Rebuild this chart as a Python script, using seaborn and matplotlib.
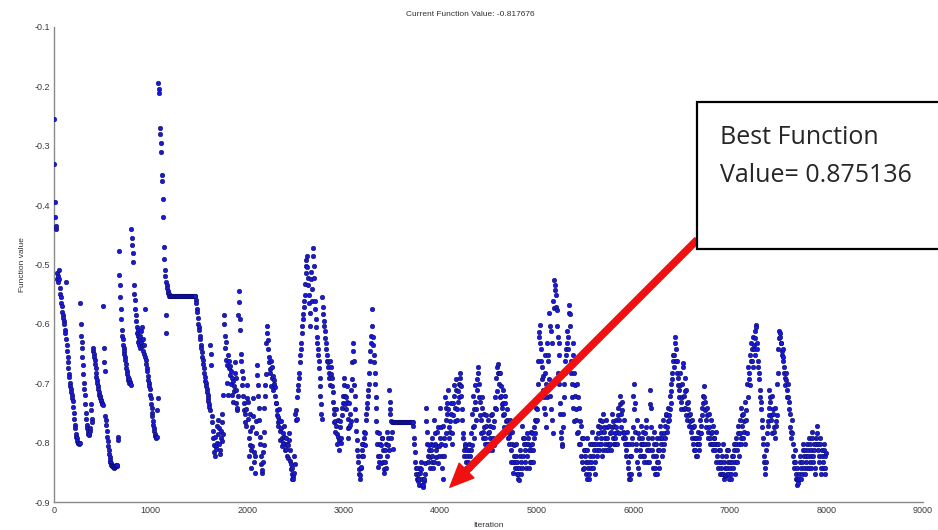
import numpy as np
import pandas as pd
import matplotlib
matplotlib.use("Agg")
import matplotlib.pyplot as plt
import seaborn as sns
from matplotlib.patches import Rectangle

# Function values, one value every 5 iterations
vals_0k = [
    -0.255, -0.33, -0.395, -0.42, -0.44, -0.435, -0.515, -0.525, -0.53, -0.52, -0.51, -0.525, -0.54, -0.55, -0.555, -0.565, -0.57, -0.58, -0.585, -0.59,
    -0.595, -0.60, -0.61, -0.615, -0.53, -0.625, -0.635, -0.645, -0.655, -0.665, -0.675, -0.685, -0.69, -0.70, -0.705, -0.71, -0.715, -0.72, -0.725, -0.73,
    -0.74, -0.75, -0.76, -0.77, -0.775, -0.785, -0.79, -0.793, -0.797, -0.80, -0.80, -0.802, -0.80, -0.80, -0.565, -0.60, -0.62, -0.63, -0.64, -0.655,
    -0.67, -0.685, -0.70, -0.71, -0.72, -0.735, -0.75, -0.76, -0.77, -0.775, -0.78, -0.785, -0.787, -0.785, -0.78, -0.775, -0.735, -0.745, -0.76, -0.765,
    -0.645, -0.64, -0.65, -0.655, -0.66, -0.668, -0.675, -0.683, -0.69, -0.695, -0.70, -0.705, -0.71, -0.715, -0.72, -0.722, -0.725, -0.728, -0.73, -0.733,
    -0.735, -0.737, -0.57, -0.64, -0.665, -0.68, -0.755, -0.762, -0.77, -0.78, -0.79, -0.797, -0.805, -0.812, -0.82, -0.825, -0.83, -0.833, -0.835, -0.837,
    -0.838, -0.84, -0.841, -0.84, -0.842, -0.84, -0.841, -0.839, -0.837, -0.84, -0.84, -0.838, -0.79, -0.795, -0.478, -0.518, -0.535, -0.555, -0.575, -0.592,
    -0.61, -0.62, -0.625, -0.635, -0.64, -0.645, -0.65, -0.655, -0.66, -0.667, -0.675, -0.68, -0.685, -0.69, -0.695, -0.70, -0.693, -0.698, -0.70, -0.703,
    -0.44, -0.455, -0.467, -0.48, -0.495, -0.535, -0.55, -0.56, -0.575, -0.585, -0.595, -0.605, -0.615, -0.62, -0.63, -0.61, -0.625, -0.635, -0.64, -0.62,
    -0.612, -0.63, -0.605, -0.638, -0.625, -0.645, -0.635, -0.65, -0.575, -0.655, -0.66, -0.668, -0.675, -0.68, -0.688, -0.695, -0.70, -0.705, -0.71, -0.72,
]
vals_1k = [
    -0.725, -0.735, -0.742, -0.75, -0.755, -0.763, -0.77, -0.775, -0.78, -0.785, -0.788, -0.79, -0.792, -0.79, -0.745, -0.725, -0.195, -0.205, -0.211, -0.27,
    -0.28, -0.295, -0.31, -0.35, -0.36, -0.39, -0.42, -0.47, -0.49, -0.51, -0.52, -0.585, -0.53, -0.615, -0.535, -0.54, -0.545, -0.548, -0.55, -0.553,
    -0.553, -0.553, -0.553, -0.553, -0.553, -0.553, -0.553, -0.553, -0.553, -0.553, -0.553, -0.553, -0.553, -0.553, -0.553, -0.553, -0.553, -0.553, -0.553, -0.553,
    -0.553, -0.553, -0.553, -0.553, -0.553, -0.553, -0.553, -0.553, -0.553, -0.553, -0.553, -0.553, -0.553, -0.553, -0.553, -0.553, -0.553, -0.553, -0.553, -0.553,
    -0.553, -0.553, -0.553, -0.553, -0.553, -0.553, -0.553, -0.553, -0.553, -0.553, -0.553, -0.553, -0.553, -0.553, -0.56, -0.565, -0.575, -0.58, -0.59, -0.60,
    -0.605, -0.61, -0.62, -0.625, -0.635, -0.64, -0.648, -0.655, -0.66, -0.668, -0.675, -0.683, -0.69, -0.697, -0.70, -0.705, -0.71, -0.715, -0.72, -0.725,
    -0.73, -0.735, -0.74, -0.745, -0.635, -0.65, -0.67, -0.755, -0.765, -0.78, -0.793, -0.804, -0.815, -0.822, -0.79, -0.805, -0.811, -0.772, -0.80, -0.785,
    -0.762, -0.776, -0.803, -0.812, -0.82, -0.792, -0.781, -0.797, -0.752, -0.766, -0.785, -0.72, -0.60, -0.585, -0.62, -0.64, -0.63, -0.66, -0.67, -0.70,
    -0.72, -0.652, -0.663, -0.675, -0.671, -0.686, -0.68, -0.702, -0.72, -0.692, -0.697, -0.731, -0.713, -0.704, -0.683, -0.664, -0.691, -0.712, -0.733, -0.745,
    -0.741, -0.722, -0.585, -0.545, -0.563, -0.61, -0.592, -0.65, -0.662, -0.68, -0.703, -0.692, -0.721, -0.734, -0.745, -0.752, -0.765, -0.772, -0.743, -0.724,
]
vals_2k = [
    -0.703, -0.732, -0.761, -0.793, -0.822, -0.804, -0.781, -0.752, -0.843, -0.812, -0.806, -0.773, -0.755, -0.724, -0.815, -0.833, -0.851, -0.822, -0.784, -0.763,
    -0.67, -0.686, -0.703, -0.722, -0.741, -0.762, -0.791, -0.803, -0.822, -0.836, -0.851, -0.846, -0.832, -0.815, -0.804, -0.782, -0.741, -0.722, -0.703, -0.684,
    -0.632, -0.615, -0.603, -0.627, -0.642, -0.655, -0.664, -0.676, -0.683, -0.662, -0.704, -0.692, -0.673, -0.687, -0.712, -0.701, -0.694, -0.707, -0.722, -0.733,
    -0.734, -0.745, -0.753, -0.766, -0.772, -0.757, -0.743, -0.762, -0.781, -0.795, -0.763, -0.776, -0.792, -0.806, -0.801, -0.783, -0.772, -0.791, -0.812, -0.803,
    -0.792, -0.811, -0.803, -0.822, -0.826, -0.804, -0.783, -0.796, -0.812, -0.831, -0.836, -0.845, -0.852, -0.861, -0.842, -0.856, -0.862, -0.851, -0.823, -0.836,
    -0.751, -0.762, -0.745, -0.761, -0.723, -0.712, -0.703, -0.692, -0.683, -0.665, -0.652, -0.643, -0.632, -0.615, -0.603, -0.592, -0.583, -0.572, -0.561, -0.552,
    -0.532, -0.515, -0.502, -0.492, -0.485, -0.505, -0.522, -0.535, -0.551, -0.565, -0.582, -0.603, -0.512, -0.525, -0.542, -0.561, -0.473, -0.485, -0.503, -0.522,
    -0.561, -0.575, -0.592, -0.605, -0.622, -0.633, -0.642, -0.652, -0.663, -0.675, -0.692, -0.705, -0.722, -0.735, -0.752, -0.761, -0.555, -0.572, -0.583, -0.595,
    -0.603, -0.612, -0.623, -0.632, -0.643, -0.652, -0.663, -0.665, -0.672, -0.683, -0.692, -0.703, -0.662, -0.673, -0.684, -0.692, -0.704, -0.715, -0.732, -0.743,
    -0.752, -0.765, -0.782, -0.763, -0.744, -0.772, -0.803, -0.785, -0.762, -0.791, -0.812, -0.795, -0.773, -0.764, -0.792, -0.801, -0.753, -0.742, -0.733, -0.722,
]
vals_3k = [
    -0.692, -0.703, -0.722, -0.735, -0.744, -0.723, -0.704, -0.732, -0.761, -0.775, -0.792, -0.773, -0.734, -0.752, -0.771, -0.763, -0.712, -0.693, -0.664, -0.645,
    -0.632, -0.662, -0.703, -0.722, -0.743, -0.762, -0.781, -0.795, -0.812, -0.823, -0.832, -0.845, -0.852, -0.861, -0.855, -0.843, -0.841, -0.822, -0.803, -0.813,
    -0.822, -0.803, -0.782, -0.793, -0.804, -0.783, -0.762, -0.751, -0.742, -0.733, -0.722, -0.711, -0.702, -0.683, -0.662, -0.645, -0.632, -0.621, -0.575, -0.603,
    -0.622, -0.635, -0.652, -0.665, -0.683, -0.702, -0.723, -0.742, -0.763, -0.782, -0.803, -0.822, -0.841, -0.832, -0.783, -0.802, -0.823, -0.835, -0.804, -0.792,
    -0.793, -0.812, -0.833, -0.845, -0.851, -0.832, -0.813, -0.802, -0.842, -0.823, -0.782, -0.793, -0.804, -0.812, -0.712, -0.732, -0.743, -0.752, -0.764, -0.792,
    -0.765, -0.782, -0.811, -0.765, -0.765, -0.765, -0.765, -0.765, -0.765, -0.765, -0.765, -0.765, -0.765, -0.765, -0.765, -0.765, -0.765, -0.765, -0.765, -0.765,
    -0.765, -0.765, -0.765, -0.765, -0.765, -0.765, -0.765, -0.765, -0.765, -0.765, -0.765, -0.765, -0.765, -0.765, -0.765, -0.765, -0.765, -0.765, -0.765, -0.765,
    -0.765, -0.765, -0.765, -0.765, -0.772, -0.792, -0.803, -0.815, -0.832, -0.843, -0.852, -0.861, -0.842, -0.853, -0.862, -0.865, -0.871, -0.862, -0.851, -0.843,
    -0.832, -0.845, -0.862, -0.871, -0.875, -0.872, -0.865, -0.861, -0.852, -0.835, -0.742, -0.763, -0.782, -0.803, -0.822, -0.833, -0.804, -0.812, -0.843, -0.825,
    -0.812, -0.803, -0.832, -0.823, -0.792, -0.804, -0.842, -0.833, -0.762, -0.783, -0.802, -0.813, -0.824, -0.805, -0.782, -0.773, -0.834, -0.823, -0.806, -0.792,
]
vals_4k = [
    -0.742, -0.773, -0.802, -0.823, -0.842, -0.861, -0.772, -0.793, -0.822, -0.804, -0.723, -0.742, -0.783, -0.762, -0.751, -0.733, -0.712, -0.743, -0.792, -0.773,
    -0.763, -0.782, -0.733, -0.752, -0.783, -0.802, -0.754, -0.733, -0.722, -0.703, -0.742, -0.763, -0.712, -0.693, -0.762, -0.743, -0.732, -0.713, -0.702, -0.723,
    -0.692, -0.703, -0.682, -0.705, -0.722, -0.743, -0.762, -0.783, -0.792, -0.813, -0.822, -0.803, -0.806, -0.832, -0.843, -0.822, -0.813, -0.845, -0.833, -0.812,
    -0.803, -0.822, -0.843, -0.812, -0.783, -0.804, -0.752, -0.773, -0.722, -0.743, -0.772, -0.793, -0.703, -0.732, -0.743, -0.762, -0.712, -0.693, -0.672, -0.683,
    -0.702, -0.723, -0.732, -0.753, -0.762, -0.783, -0.742, -0.723, -0.782, -0.793, -0.752, -0.773, -0.792, -0.803, -0.772, -0.753, -0.802, -0.813, -0.762, -0.783,
    -0.782, -0.803, -0.812, -0.793, -0.772, -0.753, -0.802, -0.813, -0.752, -0.773, -0.792, -0.804, -0.763, -0.742, -0.723, -0.744, -0.692, -0.713, -0.672, -0.683,
    -0.667, -0.683, -0.702, -0.723, -0.682, -0.704, -0.722, -0.735, -0.742, -0.753, -0.712, -0.733, -0.752, -0.773, -0.734, -0.722, -0.763, -0.782, -0.743, -0.762,
    -0.772, -0.793, -0.791, -0.803, -0.762, -0.783, -0.812, -0.833, -0.782, -0.803, -0.832, -0.851, -0.804, -0.823, -0.842, -0.833, -0.822, -0.803, -0.852, -0.843,
    -0.832, -0.853, -0.861, -0.863, -0.842, -0.823, -0.812, -0.833, -0.852, -0.843, -0.772, -0.793, -0.822, -0.803, -0.792, -0.813, -0.832, -0.843, -0.802, -0.783,
    -0.822, -0.803, -0.792, -0.813, -0.842, -0.833, -0.804, -0.782, -0.833, -0.812, -0.783, -0.802, -0.813, -0.832, -0.792, -0.773, -0.762, -0.783, -0.742, -0.763,
]
vals_5k = [
    -0.762, -0.743, -0.702, -0.663, -0.622, -0.613, -0.602, -0.633, -0.642, -0.663, -0.672, -0.693, -0.688, -0.712, -0.723, -0.742, -0.652, -0.683, -0.752, -0.773,
    -0.702, -0.723, -0.632, -0.653, -0.662, -0.693, -0.582, -0.603, -0.722, -0.743, -0.612, -0.633, -0.762, -0.783, -0.562, -0.573, -0.526, -0.535, -0.543, -0.552,
    -0.572, -0.576, -0.603, -0.622, -0.683, -0.702, -0.633, -0.652, -0.733, -0.752, -0.782, -0.793, -0.803, -0.806, -0.752, -0.773, -0.702, -0.723, -0.662, -0.683,
    -0.642, -0.653, -0.612, -0.633, -0.622, -0.643, -0.568, -0.582, -0.583, -0.603, -0.662, -0.683, -0.702, -0.723, -0.632, -0.653, -0.742, -0.763, -0.682, -0.703,
    -0.722, -0.743, -0.762, -0.783, -0.702, -0.723, -0.782, -0.803, -0.742, -0.763, -0.802, -0.823, -0.772, -0.793, -0.832, -0.845, -0.792, -0.813, -0.842, -0.823,
    -0.812, -0.833, -0.852, -0.861, -0.792, -0.813, -0.832, -0.843, -0.862, -0.853, -0.802, -0.823, -0.842, -0.833, -0.782, -0.803, -0.822, -0.843, -0.802, -0.813,
    -0.832, -0.853, -0.792, -0.803, -0.812, -0.823, -0.772, -0.783, -0.802, -0.813, -0.762, -0.773, -0.792, -0.803, -0.782, -0.763, -0.822, -0.813, -0.752, -0.773,
    -0.782, -0.793, -0.802, -0.813, -0.762, -0.773, -0.792, -0.803, -0.812, -0.804, -0.772, -0.783, -0.802, -0.813, -0.782, -0.773, -0.752, -0.763, -0.792, -0.803,
    -0.772, -0.783, -0.802, -0.793, -0.762, -0.773, -0.782, -0.803, -0.742, -0.753, -0.762, -0.783, -0.722, -0.735, -0.752, -0.773, -0.732, -0.745, -0.782, -0.793,
    -0.762, -0.783, -0.792, -0.803, -0.812, -0.823, -0.782, -0.803, -0.832, -0.843, -0.852, -0.861, -0.802, -0.823, -0.862, -0.853, -0.822, -0.803, -0.792, -0.773,
]
vals_6k = [
    -0.722, -0.743, -0.702, -0.733, -0.782, -0.803, -0.812, -0.833, -0.762, -0.783, -0.842, -0.853, -0.792, -0.813, -0.822, -0.803, -0.772, -0.793, -0.802, -0.823,
    -0.782, -0.803, -0.822, -0.833, -0.802, -0.783, -0.762, -0.773, -0.832, -0.813, -0.792, -0.803, -0.812, -0.833, -0.712, -0.735, -0.742, -0.773, -0.792, -0.813,
    -0.822, -0.843, -0.782, -0.803, -0.842, -0.853, -0.802, -0.823, -0.852, -0.833, -0.792, -0.813, -0.832, -0.843, -0.812, -0.793, -0.772, -0.783, -0.802, -0.823,
    -0.792, -0.813, -0.762, -0.783, -0.802, -0.793, -0.772, -0.753, -0.752, -0.773, -0.782, -0.763, -0.742, -0.753, -0.762, -0.743, -0.722, -0.733, -0.702, -0.713,
    -0.682, -0.693, -0.652, -0.663, -0.672, -0.653, -0.622, -0.633, -0.642, -0.663, -0.662, -0.683, -0.692, -0.703, -0.712, -0.723, -0.682, -0.703, -0.732, -0.743,
    -0.702, -0.723, -0.672, -0.666, -0.722, -0.743, -0.692, -0.713, -0.742, -0.753, -0.712, -0.733, -0.762, -0.743, -0.732, -0.753, -0.772, -0.763, -0.752, -0.773,
    -0.782, -0.793, -0.762, -0.773, -0.802, -0.813, -0.772, -0.793, -0.812, -0.823, -0.792, -0.803, -0.822, -0.803, -0.782, -0.793, -0.802, -0.813, -0.762, -0.783,
    -0.772, -0.783, -0.742, -0.753, -0.722, -0.733, -0.705, -0.723, -0.732, -0.745, -0.762, -0.773, -0.742, -0.753, -0.782, -0.793, -0.752, -0.773, -0.792, -0.803,
    -0.762, -0.783, -0.782, -0.803, -0.802, -0.813, -0.772, -0.793, -0.792, -0.803, -0.812, -0.833, -0.782, -0.803, -0.822, -0.843, -0.802, -0.813, -0.832, -0.853,
    -0.812, -0.833, -0.842, -0.853, -0.822, -0.803, -0.852, -0.861, -0.832, -0.843, -0.857, -0.855, -0.822, -0.813, -0.842, -0.853, -0.812, -0.833, -0.852, -0.861,
]
vals_7k = [
    -0.832, -0.843, -0.852, -0.861, -0.822, -0.833, -0.842, -0.823, -0.802, -0.813, -0.832, -0.853, -0.792, -0.803, -0.812, -0.833, -0.772, -0.783, -0.802, -0.823,
    -0.762, -0.783, -0.792, -0.803, -0.742, -0.753, -0.772, -0.793, -0.752, -0.763, -0.782, -0.803, -0.732, -0.745, -0.762, -0.783, -0.702, -0.723, -0.672, -0.693,
    -0.682, -0.703, -0.652, -0.663, -0.632, -0.643, -0.662, -0.673, -0.622, -0.635, -0.642, -0.653, -0.612, -0.623, -0.602, -0.605, -0.632, -0.643, -0.662, -0.673,
    -0.682, -0.693, -0.712, -0.723, -0.732, -0.743, -0.762, -0.773, -0.792, -0.803, -0.822, -0.833, -0.852, -0.843, -0.832, -0.813, -0.802, -0.783, -0.772, -0.763,
    -0.742, -0.753, -0.712, -0.723, -0.732, -0.753, -0.762, -0.783, -0.722, -0.743, -0.752, -0.773, -0.782, -0.793, -0.742, -0.763, -0.772, -0.753, -0.702, -0.683,
    -0.642, -0.623, -0.612, -0.615, -0.622, -0.633, -0.632, -0.645, -0.652, -0.663, -0.642, -0.655, -0.672, -0.683, -0.692, -0.703, -0.682, -0.695, -0.712, -0.723,
    -0.702, -0.723, -0.732, -0.743, -0.752, -0.773, -0.782, -0.793, -0.762, -0.783, -0.802, -0.823, -0.832, -0.843, -0.812, -0.833, -0.852, -0.861, -0.862, -0.871,
    -0.842, -0.863, -0.868, -0.861, -0.852, -0.833, -0.822, -0.843, -0.862, -0.853, -0.832, -0.813, -0.802, -0.823, -0.842, -0.853, -0.812, -0.823, -0.832, -0.843,
    -0.802, -0.813, -0.822, -0.843, -0.792, -0.803, -0.832, -0.843, -0.812, -0.823, -0.782, -0.793, -0.822, -0.833, -0.802, -0.813, -0.842, -0.853, -0.792, -0.803,
    -0.772, -0.783, -0.802, -0.813, -0.822, -0.833, -0.792, -0.803, -0.842, -0.853, -0.812, -0.823, -0.832, -0.843, -0.802, -0.813, -0.852, -0.843, -0.822, -0.818,
]
iteration_step = 5

x_ticks = [0, 1000, 2000, 3000, 4000, 5000, 6000, 7000, 8000, 9000]
y_ticks = [-0.9, -0.8, -0.7, -0.6, -0.5, -0.4, -0.3, -0.2, -0.1]
title_text = "Current Function Value: -0.817676"
x_label = "Iteration"
y_label = "Function value"
best_iteration = 4100
best_value = -0.875136
box_lines = ["Best Function", "Value= 0.875136"]

values = vals_0k + vals_1k + vals_2k + vals_3k + vals_4k + vals_5k + vals_6k + vals_7k
df = pd.DataFrame({"Iteration": np.arange(len(values)) * iteration_step,
                   "Function value": values})

sns.set_theme(style="white")
plt.rcParams["font.family"] = ["Liberation Sans", "DejaVu Sans"]

W, H = 938, 530
fig = plt.figure(figsize=(W / 100, H / 100), dpi=100)
fig.patch.set_facecolor("white")
ax = fig.add_axes([54 / W, 1 - 502 / H, (923 - 54) / W, (502 - 27) / H])

sns.scatterplot(data=df, x="Iteration", y="Function value", ax=ax,
                color="#1a1ad2", edgecolor="#0a0a60", linewidth=0.35,
                s=11, marker="o", legend=False, zorder=3)

ax.set_xlim(0, 9000)
ax.set_ylim(-0.9, -0.1)
ax.set_xticks(x_ticks)
ax.set_xticklabels([str(t) for t in x_ticks])
ax.set_yticks(y_ticks)
ax.set_yticklabels([f"{t:.1f}" for t in y_ticks])
ax.tick_params(axis="both", direction="in", length=4, width=0.8,
               colors="#7a7a7a", labelcolor="#3a3a3a", labelsize=6.5, pad=3)
for side in ["top", "right"]:
    ax.spines[side].set_visible(False)
for side in ["left", "bottom"]:
    ax.spines[side].set_color("#8a8a8a")
    ax.spines[side].set_linewidth(1.0)
ax.set_facecolor("white")
ax.grid(False)

ax.set_xlabel(x_label, fontsize=6, color="#333333", labelpad=5)
ax.set_ylabel(y_label, fontsize=6, color="#333333", labelpad=6)
fig.text(470 / W, 1 - 14 / H, title_text, fontsize=6, color="#333333",
         ha="center", va="center")

# annotation box
rect = Rectangle((697 / W, 1 - 249 / H), (960 - 697) / W, (249 - 102) / H,
                 transform=fig.transFigure, facecolor="white",
                 edgecolor="black", linewidth=1.6, zorder=10, clip_on=False)
fig.patches.append(rect)
fig.text(720 / W, 1 - 144 / H, box_lines[0], fontsize=18, color="#262626",
         family=["Open Sans", "DejaVu Sans"], ha="left", va="baseline", zorder=11)
fig.text(720 / W, 1 - 182 / H, box_lines[1], fontsize=18, color="#262626",
         family=["Open Sans", "DejaVu Sans"], ha="left", va="baseline", zorder=11)

# red arrow from the box to the best point
ax.annotate("", xy=(best_iteration, best_value), xycoords="data",
            xytext=(697 / W, 1 - 240 / H), textcoords="figure fraction",
            arrowprops=dict(facecolor="#f01010", edgecolor="#f01010",
                            width=4.5, headwidth=15, headlength=17, shrink=0),
            zorder=12, annotation_clip=False)

fig.savefig("out.png", dpi=100, facecolor="white")
